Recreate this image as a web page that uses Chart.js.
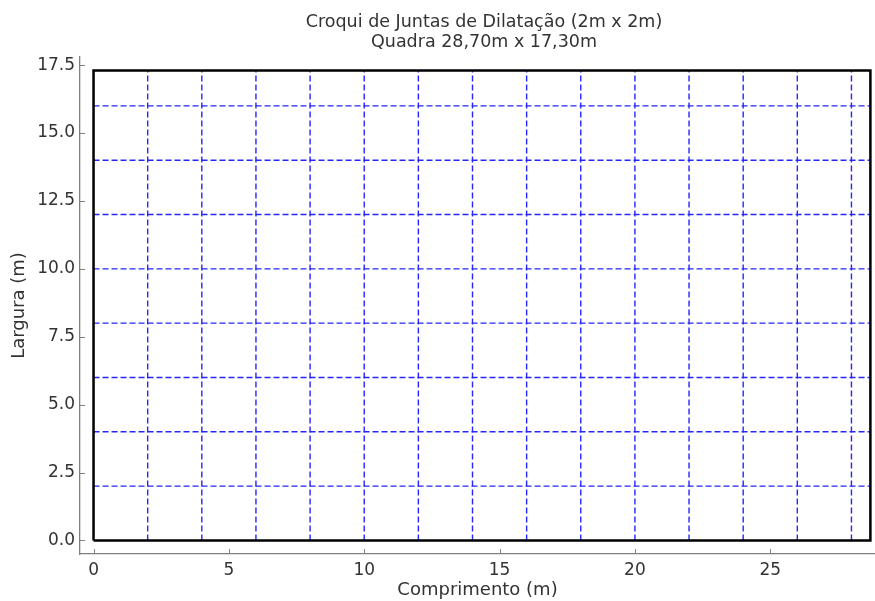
<!DOCTYPE html>
<html>
<head>
<meta charset="utf-8">
<script src="https://cdn.jsdelivr.net/npm/chart.js@4/dist/chart.umd.min.js"></script>
<style>
  html, body { margin: 0; padding: 0; background: #fff; overflow: hidden; }
</style>
</head>
<body>
<canvas id="croqui" width="875" height="601"></canvas>
<script>
// Croqui de juntas: quadra 28,70 x 17,30 com juntas a cada 2 m
const quadraComprimento = 28.7;
const quadraLargura = 17.3;
const juntasX = [2, 4, 6, 8, 10, 12, 14, 16, 18, 20, 22, 24, 26, 28];
const juntasY = [2, 4, 6, 8, 10, 12, 14, 16];
const ticksX = [0, 5, 10, 15, 20, 25];
const ticksY = [0, 2.5, 5, 7.5, 10, 12.5, 15, 17.5];
const titulo = ['Croqui de Juntas de Dilatação (2m x 2m)', 'Quadra 28,70m x 17,30m'];

const FONTE = '"DejaVu Sans", sans-serif';
const CINZA = '#808080';
const TEXTO = '#333333';

const datasets = [];

// contorno da quadra
datasets.push({
  data: [
    { x: 0, y: 0 },
    { x: quadraComprimento, y: 0 },
    { x: quadraComprimento, y: quadraLargura },
    { x: 0, y: quadraLargura },
    { x: 0, y: 0 }
  ],
  borderColor: '#000000',
  borderWidth: 2.5,
  pointRadius: 0,
  order: 0
});

// juntas verticais
juntasX.forEach(x => {
  datasets.push({
    data: [{ x: x, y: 0 }, { x: x, y: quadraLargura }],
    borderColor: '#2626ff',
    borderWidth: 1.4,
    borderDash: [6, 3],
    pointRadius: 0,
    order: 1
  });
});

// juntas horizontais
juntasY.forEach(y => {
  datasets.push({
    data: [{ x: 0, y: y }, { x: quadraComprimento, y: y }],
    borderColor: '#2626ff',
    borderWidth: 1.4,
    borderDash: [6, 3],
    pointRadius: 0,
    order: 1
  });
});

// título e marcas de escala para dentro (estilo matplotlib)
const extras = {
  id: 'extras',
  afterDraw(chart) {
    const ctx = chart.ctx;
    const area = chart.chartArea;
    const sx = chart.scales.x, sy = chart.scales.y;
    ctx.save();
    ctx.strokeStyle = CINZA;
    ctx.lineWidth = 1;
    sx.ticks.forEach(t => {
      const px = Math.round(sx.getPixelForValue(t.value)) + 0.5;
      ctx.beginPath();
      ctx.moveTo(px, area.bottom);
      ctx.lineTo(px, area.bottom - 5);
      ctx.stroke();
    });
    sy.ticks.forEach(t => {
      const py = Math.round(sy.getPixelForValue(t.value)) + 0.5;
      ctx.beginPath();
      ctx.moveTo(area.left, py);
      ctx.lineTo(area.left + 5, py);
      ctx.stroke();
    });
    ctx.fillStyle = TEXTO;
    ctx.font = '17.5px ' + FONTE;
    ctx.textAlign = 'center';
    ctx.textBaseline = 'alphabetic';
    ctx.fillText(titulo[0], 484, 27);
    ctx.fillText(titulo[1], 484, 47);
    ctx.restore();
  }
};

new Chart(document.getElementById('croqui'), {
  type: 'line',
  data: { datasets },
  options: {
    responsive: false,
    animation: false,
    layout: { padding: { top: 57, left: 0, right: 0, bottom: 0 } },
    plugins: {
      legend: { display: false },
      tooltip: { enabled: false }
    },
    scales: {
      x: {
        type: 'linear',
        min: -0.5,
        max: 28.87,
        afterFit: s => { s.height = 47; },
        afterBuildTicks: s => { s.ticks = ticksX.map(v => ({ value: v })); },
        ticks: {
          padding: 6,
          color: TEXTO,
          font: { family: FONTE, size: 17 },
          callback: v => String(v)
        },
        grid: { drawOnChartArea: false, drawTicks: false },
        border: { display: true, color: CINZA, width: 1.3 },
        title: {
          display: true,
          text: 'Comprimento (m)',
          color: TEXTO,
          font: { family: FONTE, size: 18 },
          padding: { top: 0, bottom: 0 }
        }
      },
      y: {
        type: 'linear',
        min: -0.5,
        max: 17.8,
        afterFit: s => { s.width = 80; },
        afterBuildTicks: s => { s.ticks = ticksY.map(v => ({ value: v })); },
        ticks: {
          padding: 5,
          color: TEXTO,
          font: { family: FONTE, size: 17 },
          callback: v => Number(v).toFixed(1)
        },
        grid: { drawOnChartArea: false, drawTicks: false },
        border: { display: true, color: CINZA, width: 1.3 },
        title: {
          display: true,
          text: 'Largura (m)',
          color: TEXTO,
          font: { family: FONTE, size: 18 },
          padding: { top: 9, bottom: 0 }
        }
      }
    }
  },
  plugins: [extras]
});
</script>
</body>
</html>
